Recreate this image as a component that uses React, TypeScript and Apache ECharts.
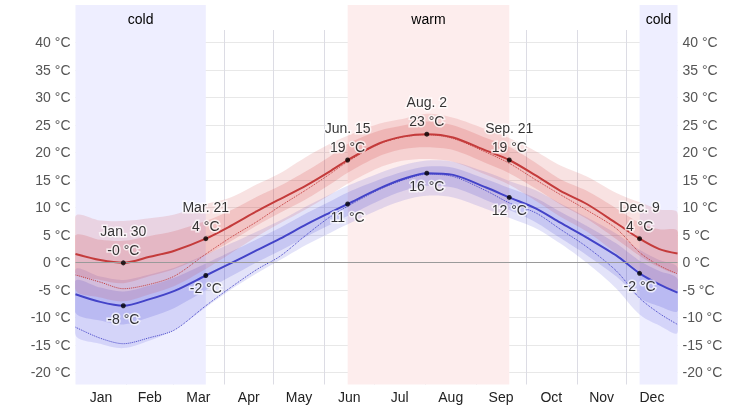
import React, { useEffect, useRef } from 'react';
import * as echarts from 'echarts';

// Day of year (Jan 1 = 0) of each sample
const DAYS = [0, 15, 29, 45, 60, 79, 94, 110, 124, 140, 154, 165, 184, 199, 213, 229, 249, 263, 279, 294, 310, 328, 342, 354, 365];

// Daily high temperature (°C) and its percentile bands
const HIGH = [1.5, 0.4, -0.1, 1.0, 2.1, 4.3, 6.6, 9.3, 11.5, 14.0, 16.5, 18.6, 21.6, 22.9, 23.3, 22.7, 20.3, 18.6, 15.8, 13.0, 10.6, 7.1, 4.3, 2.4, 1.6];
const HIGH_P90 = [8.4, 7.6, 7.5, 8.0, 8.7, 10.6, 11.8, 14.2, 16.2, 19.2, 21.5, 23.0, 25.2, 26.1, 27.0, 26.3, 24.2, 22.6, 20.2, 17.6, 15.6, 12.6, 10.9, 9.6, 9.0];
const HIGH_P75 = [4.9, 4.1, 3.9, 4.8, 5.7, 7.5, 9.4, 11.9, 13.9, 16.6, 19.2, 21.5, 23.9, 24.9, 25.6, 24.9, 22.6, 21.0, 18.1, 15.1, 13.0, 9.8, 7.2, 6.0, 5.7];
const HIGH_P25 = [-2.0, -3.2, -3.8, -2.5, -1.2, 1.3, 3.8, 6.7, 9.0, 11.5, 14.1, 16.3, 19.3, 20.6, 20.9, 20.4, 18.0, 16.2, 13.4, 10.5, 7.9, 4.2, 1.2, -0.9, -1.8];
const HIGH_P10 = [-5.0, -6.4, -7.1, -5.8, -4.3, -1.2, 1.6, 4.7, 7.1, 9.7, 12.2, 14.3, 17.2, 18.5, 18.8, 18.3, 15.9, 14.1, 11.2, 8.3, 5.6, 1.6, -1.7, -3.9, -4.9];

// Daily low temperature (°C) and its percentile bands
const LOW = [-5.8, -7.2, -7.9, -6.7, -5.2, -2.4, -0.2, 2.2, 4.3, 6.9, 9.0, 10.6, 13.4, 15.2, 16.2, 15.9, 13.6, 11.8, 9.8, 7.2, 4.5, 1.2, -2.0, -4.0, -5.5];
const LOW_P90 = [-1.3, -2.6, -3.2, -2.2, -1.0, 1.4, 3.4, 5.6, 7.6, 10.2, 12.3, 13.9, 16.2, 17.7, 18.5, 18.3, 16.4, 14.8, 13.1, 10.7, 8.2, 5.2, 2.3, 0.4, -1.0];
const LOW_P75 = [-3.3, -4.6, -5.3, -4.2, -2.8, -0.2, 1.9, 4.2, 6.3, 8.9, 11.0, 12.7, 15.0, 16.5, 17.4, 17.2, 15.1, 13.5, 11.7, 9.2, 6.6, 3.4, 0.3, -1.6, -3.0];
const LOW_P25 = [-9.2, -10.6, -11.3, -10.0, -8.3, -5.1, -2.6, 0.0, 2.1, 4.7, 6.8, 8.4, 11.2, 13.0, 13.9, 13.6, 11.3, 9.5, 7.3, 4.4, 1.3, -2.6, -6.5, -8.0, -8.9];
const LOW_P10 = [-13.2, -14.8, -15.6, -14.2, -12.2, -8.2, -5.0, -2.0, 0.4, 3.2, 5.3, 6.9, 9.6, 11.3, 12.1, 11.8, 9.7, 8.1, 6.2, 3.4, -0.1, -4.8, -9.5, -11.5, -12.8];

// Perceived temperatures (dotted)
const HIGH_FEEL = [-2.3, -3.6, -4.8, -4.0, -2.5, 1.5, 4.5, 7.4, 10.2, 13.2, 16.0, 18.3, 21.5, 22.8, 23.2, 22.5, 20.0, 18.0, 15.0, 12.3, 9.5, 6.1, 1.8, -0.6, -2.1];
const LOW_FEEL = [-11.8, -13.8, -14.8, -13.7, -12.3, -7.9, -4.6, -1.3, 1.1, 5.0, 8.2, 10.2, 13.2, 15.0, 16.0, 15.6, 13.0, 10.8, 9.0, 6.0, 2.8, -1.6, -6.5, -9.3, -11.3];

// Annotated days
const MARK_DAYS = [29, 79, 165, 213, 263, 342];
const MARK_NAMES = ['Jan. 30', 'Mar. 21', 'Jun. 15', 'Aug. 2', 'Sep. 21', 'Dec. 9'];

// Seasons
const SEASON_NAMES = ['cold', 'warm', 'cold'];
const SEASON_FROM = [0, 165, 342];
const SEASON_TO = [79, 263, 365];

// Axes
const MONTHS = ['Jan', 'Feb', 'Mar', 'Apr', 'May', 'Jun', 'Jul', 'Aug', 'Sep', 'Oct', 'Nov', 'Dec'];
const MONTH_STARTS = [31, 59, 90, 120, 151, 181, 212, 243, 273, 304, 334];
const MONTH_MIDS = [15.5, 45, 74.5, 105, 135.5, 166, 196.5, 227.5, 258, 288.5, 319, 349.5];
const Y_TICKS = [-20, -15, -10, -5, 0, 5, 10, 15, 20, 25, 30, 35, 40];

const FONT = "'Liberation Sans', Arial, Helvetica, sans-serif";
const RED = '#c43b3b';
const BLUE = '#4343c8';
const SM = 0.3;

export default function App() {
  const ref = useRef<HTMLDivElement>(null);

  useEffect(() => {
    if (!ref.current) return;
    const chart = echarts.init(ref.current, undefined, { renderer: 'svg' });

    const pts = (arr: number[]) => DAYS.map((d, i) => [d, arr[i]]);
    const band = (lo: number[], up: number[], color: string) => ({
      type: 'custom', xAxisIndex: 0, yAxisIndex: 0, silent: true, z: 1, clip: true,
      data: DAYS.map((d, i) => [d, lo[i], up[i]]),
      encode: { x: 0, y: [1, 2] },
      renderItem: (params: any, api: any) => {
        if (params.dataIndex !== 0) return null;
        const top = DAYS.map((d, i) => api.coord([d, up[i]]));
        const bot = DAYS.map((d, i) => api.coord([d, lo[i]])).reverse();
        return {
          type: 'polygon',
          shape: { points: top.concat(bot), smooth: SM },
          style: { fill: color },
        };
      },
    });
    const idx = (d: number) => DAYS.indexOf(d);
    const labelBase = {
      show: true, color: '#000', fontSize: 14, fontFamily: FONT, lineHeight: 19,
      textBorderColor: 'rgba(255,255,255,0.9)', textBorderWidth: 3,
    };

    const seasonColor = (n: string) => (n === 'cold' ? '#eeeeff' : '#fdeded');
    const seasonAreas = SEASON_NAMES.map((n, k) => [
      { name: n, xAxis: SEASON_FROM[k], itemStyle: { color: seasonColor(n) } },
      { xAxis: SEASON_TO[k] },
    ]);

    const yAxisCommon = {
      type: 'value', min: -22.22, max: 42.24, gridIndex: 0,
      axisLine: { show: false }, axisTick: { show: false, customValues: Y_TICKS },
    };

    chart.setOption({
      animation: false,
      grid: [
        { left: 75.5, right: 75.5, top: 30, bottom: 22.5 },
        { left: 75.5, right: 75.5, top: 5, height: 25 },
      ],
      xAxis: [
        {
          type: 'value', min: 0, max: 365, gridIndex: 0,
          axisLine: { show: false },
          axisTick: { show: true, customValues: MONTH_STARTS, length: 4, lineStyle: { color: '#dcdce4' } },
          axisLabel: {
            customValues: MONTH_MIDS, margin: 5, color: '#222', fontSize: 14, fontFamily: FONT,
            formatter: (v: number) => {
              const k = MONTH_MIDS.findIndex((m) => Math.abs(m - v) < 0.01);
              return k >= 0 ? MONTHS[k] : '';
            },
          },
          splitLine: { show: true, lineStyle: { color: '#dcdce4', width: 1 } },
        },
        { type: 'value', min: 0, max: 365, gridIndex: 1, show: false },
      ],
      yAxis: [
        {
          ...yAxisCommon, position: 'left',
          axisLabel: { customValues: Y_TICKS, margin: 5, color: '#555', fontSize: 14, fontFamily: FONT, formatter: (v: number) => `${v} °C` },
          splitLine: { show: true, lineStyle: { color: '#e8e8e8', width: 1 } },
        },
        {
          ...yAxisCommon, position: 'right',
          axisLabel: { customValues: Y_TICKS, margin: 5, color: '#555', fontSize: 14, fontFamily: FONT, formatter: (v: number) => `${v} °C` },
          splitLine: { show: false },
        },
        { type: 'value', min: 0, max: 1, gridIndex: 1, show: false },
      ],
      series: [
        {
          type: 'line', xAxisIndex: 1, yAxisIndex: 2, data: [[0, 0.5]], symbol: 'none',
          lineStyle: { width: 0, opacity: 0 }, silent: true, z: 0,
          markArea: {
            silent: true,
            label: { show: true, position: 'inside', color: '#000', fontSize: 14, fontFamily: FONT, offset: [0, 1] },
            data: seasonAreas,
          },
        },
        {
          type: 'line', xAxisIndex: 0, yAxisIndex: 0, data: [[0, 0]], symbol: 'none',
          lineStyle: { width: 0, opacity: 0 }, silent: true, z: 0,
          markArea: { silent: true, label: { show: false }, data: seasonAreas },
        },
        band(LOW_P10, LOW_P90, 'rgba(60,60,210,0.14)'),
        band(LOW_P25, LOW_P75, 'rgba(60,60,210,0.17)'),
        band(HIGH_P10, HIGH_P90, 'rgba(205,50,50,0.14)'),
        band(HIGH_P25, HIGH_P75, 'rgba(205,50,50,0.17)'),
        {
          type: 'line', data: pts(HIGH_FEEL), symbol: 'none', smooth: SM, silent: true, z: 3,
          lineStyle: { color: RED, width: 1, type: 'dotted' },
        },
        {
          type: 'line', data: pts(LOW_FEEL), symbol: 'none', smooth: SM, silent: true, z: 3,
          lineStyle: { color: BLUE, width: 1, type: 'dotted' },
        },
        {
          type: 'line', data: pts(HIGH), symbol: 'none', smooth: SM, silent: true, z: 4,
          lineStyle: { color: RED, width: 2 },
          markLine: {
            silent: true, symbol: 'none', label: { show: false },
            lineStyle: { color: '#9a9a9a', width: 1, type: 'solid' },
            data: [{ yAxis: 0 }],
          },
        },
        {
          type: 'line', data: pts(LOW), symbol: 'none', smooth: SM, silent: true, z: 4,
          lineStyle: { color: BLUE, width: 2 },
        },
        {
          type: 'scatter', silent: true, z: 6, symbolSize: 5, itemStyle: { color: '#000' },
          data: MARK_DAYS.map((d, k) => ({ name: MARK_NAMES[k], value: [d, HIGH[idx(d)]] })),
          label: {
            ...labelBase, position: 'top', distance: 1,
            formatter: (p: any) => `${p.name}\n${Number(p.value[1]).toFixed(0)} °C`,
          },
        },
        {
          type: 'scatter', silent: true, z: 6, symbolSize: 5, itemStyle: { color: '#000' },
          data: MARK_DAYS.map((d) => [d, LOW[idx(d)]]),
          label: {
            ...labelBase, position: 'bottom', distance: 1,
            formatter: (p: any) => `${Number(p.value[1]).toFixed(0)} °C`,
          },
        },
      ],
    });

    return () => chart.dispose();
  }, []);

  return <div ref={ref} style={{ position: 'fixed', left: 0, top: 0, width: 753, height: 407 }} />;
}
